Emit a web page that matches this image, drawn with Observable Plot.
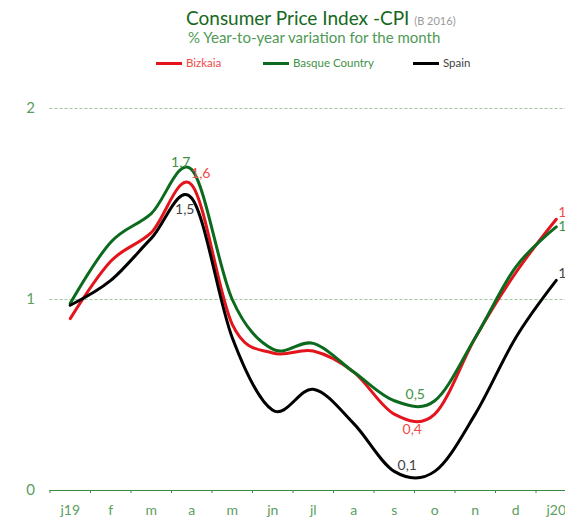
<!DOCTYPE html>
<html>
<head>
<meta charset="utf-8">
<script src="https://cdn.jsdelivr.net/npm/d3@7"></script>
<script src="https://cdn.jsdelivr.net/npm/@observablehq/plot@0.6"></script>
<style>
  html, body { margin: 0; padding: 0; background: #fff; overflow: hidden; }
  #wrap { position: relative; width: 565px; height: 520px; overflow: hidden; font-family: Lato, "Open Sans", sans-serif; }
  .abs { position: absolute; white-space: nowrap; }
  #title { left: 186px; top: 7px; font-size: 19px; line-height: 22px; color: #16691c; }
  #title small { font-size: 11px; color: #9a9a9a; }
  #subtitle { left: 188px; top: 28px; font-size: 15px; line-height: 18px; color: #4f9a55; }
  .leg { top: 56px; font-size: 11.5px; line-height: 14px; display: flex; align-items: center; }
  .leg i { display: inline-block; width: 26px; height: 3px; margin-right: 4px; }
  #chart { position: absolute; left: 0; top: 75px; width: 565px; height: 445px; overflow: hidden; }
</style>
</head>
<body>
<div id="wrap">
  <div id="title" class="abs">Consumer Price Index -CPI <small>(B 2016)</small></div>
  <div id="subtitle" class="abs">% Year-to-year variation for the month</div>
  <div id="legend"></div>
  <div id="chart"></div>
</div>
<script>
// ---- data ----
const months = ["j19","f","m","a","m","jn","jl","a","s","o","n","d","j20"];
const seriesNames = ["Bizkaia","Basque Country","Spain"];
const bizkaia = [0.90, 1.20, 1.35, 1.60, 0.87, 0.72, 0.73, 0.62, 0.40, 0.40, 0.80, 1.14, 1.42];
const basque  = [0.98, 1.30, 1.45, 1.68, 1.00, 0.74, 0.77, 0.62, 0.47, 0.47, 0.80, 1.17, 1.38];
const spain   = [0.97, 1.10, 1.32, 1.53, 0.80, 0.42, 0.53, 0.35, 0.10, 0.10, 0.40, 0.80, 1.10];
const yTicks = [0, 1, 2];
// labelled points: series and month index
const labelSeries = ["Basque Country","Bizkaia","Spain","Basque Country","Bizkaia","Spain","Bizkaia","Basque Country","Spain"];
const labelMonth  = [3, 3, 3, 8, 8, 8, 12, 12, 12];

// ---- styles ----
const lineColors = ["#e3141b", "#0b6a1d", "#000000"];
const labelColors = {"Bizkaia": "#ef4b4b", "Basque Country": "#3f9247", "Spain": "#444444"};
const axisGreen = "#3c8a42";
const textGreen = "#5b9e60";
const gridGreen = "#9fc7a2";
const labelOffsets = [[-11,-7],[9,-11],[-7,11],[21,-6],[18,15],[13,-6],[2,-7],[2,0],[2,-7]];
const labelAnchor = ["middle","middle","middle","middle","middle","middle","start","start","start"];

// legend
const legend = document.getElementById("legend");
const legendLeft = [156, 263, 413];
seriesNames.forEach((s, i) => {
  const d = document.createElement("div");
  d.className = "abs leg";
  d.style.left = legendLeft[i] + "px";
  d.style.color = labelColors[s];
  d.innerHTML = `<i style="background:${lineColors[i]}"></i>${s}`;
  legend.appendChild(d);
});

const values = {"Bizkaia": bizkaia, "Basque Country": basque, "Spain": spain};
const rows = seriesNames.flatMap(s => values[s].map((v, i) => ({series: s, i, v})));
const labels = labelSeries.map((s, k) => ({series: s, i: labelMonth[k], v: values[s][labelMonth[k]]}));
const fmt = v => d3.format(".1f")(v).replace(".", ",");

const W = 565, H = 445;
const plot = Plot.plot({
  width: W, height: H,
  marginLeft: 49.5, marginRight: -11, marginTop: 33, marginBottom: 30,
  x: {type: "linear", domain: [-0.5, 12.5], range: [49.5, 576], axis: null},
  y: {domain: [0, 2], range: [415, 33], axis: null},
  color: {domain: seriesNames, range: lineColors},
  style: {fontFamily: "Lato, 'Open Sans', sans-serif", background: "white", overflow: "hidden"},
  marks: [
    Plot.ruleY([1, 2], {stroke: gridGreen, strokeDasharray: "3,2", strokeWidth: 1}),
    Plot.ruleY([0], {stroke: axisGreen, strokeWidth: 1.2}),
    Plot.axisX(d3.range(13).map(i => i - 0.5), {anchor: "bottom", label: null, tickSize: 3, tickFormat: () => "", stroke: axisGreen}),
    Plot.axisX(d3.range(13), {anchor: "bottom", label: null, tickSize: 0, tickPadding: 15, tickFormat: i => months[i], fill: textGreen, fontSize: 14}),
    Plot.axisY(yTicks, {anchor: "left", label: null, tickSize: 0, tickPadding: 15, fill: textGreen, fontSize: 15, tickFormat: d => String(d)}),
    Plot.line(rows, {x: "i", y: "v", z: "series", stroke: "series", strokeWidth: 3, curve: "cardinal"}),
    ...labels.map((l, k) => Plot.text([l], {
      x: "i", y: "v", text: d => fmt(d.v),
      fill: labelColors[l.series], fontSize: 14,
      dx: labelOffsets[k][0], dy: labelOffsets[k][1], textAnchor: labelAnchor[k]
    }))
  ]
});
document.getElementById("chart").appendChild(plot);
</script>
</body>
</html>
